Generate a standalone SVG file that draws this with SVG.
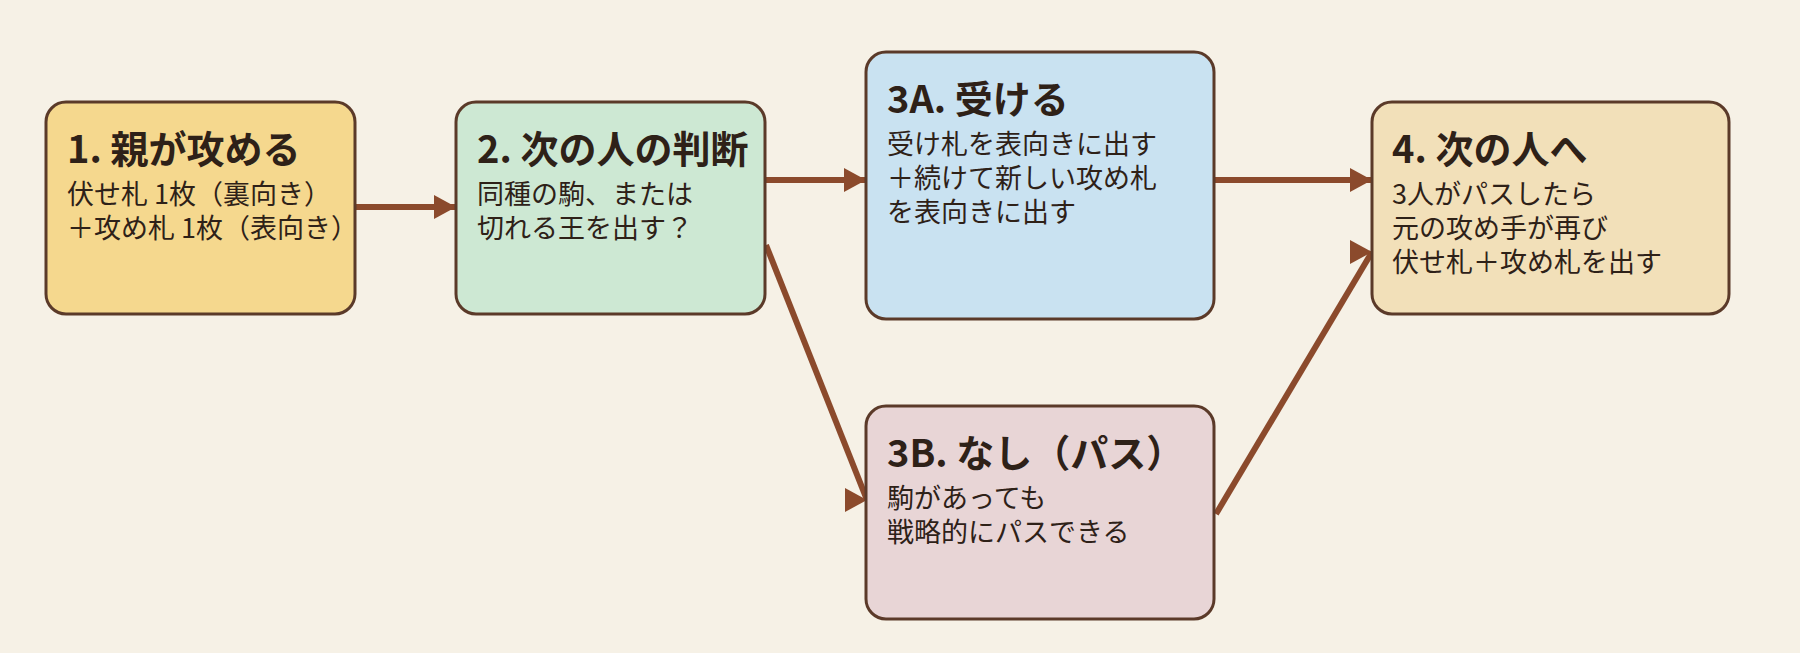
<svg xmlns="http://www.w3.org/2000/svg" width="1800" height="653" viewBox="0 0 1800 653">
<style>
.box{stroke:#5B3A29;stroke-width:3}
.t{font-family:"Noto Sans CJK JP","Noto Sans",sans-serif;fill:#2E2118}
.h{font-size:38px;font-weight:700}
.b{font-size:27px;font-weight:400}
.c{stroke:#8B4A2C;stroke-width:6;fill:none}
</style>
<defs>
<marker id="ah" markerUnits="userSpaceOnUse" viewBox="0 0 22 24" refX="22" refY="12" markerWidth="22" markerHeight="24" orient="0">
<path d="M0,0 L22,12 L0,24 z" fill="#8B4A2C"/>
</marker>
</defs>
<rect width="1800" height="653" fill="#F6F1E6"/>
<g id="connectors">
<path class="c" d="M355,207 L456,207" marker-end="url(#ah)"/>
<path class="c" d="M765,180 L866,180" marker-end="url(#ah)"/>
<path class="c" d="M1214,180 L1372,180" marker-end="url(#ah)"/>
<path class="c" d="M766,245 L867,500" marker-end="url(#ah)"/>
<path class="c" d="M1216,514 L1372,252" marker-end="url(#ah)"/>
</g>
<g id="node1">
<rect class="box" x="46" y="102" width="309" height="212" rx="20" fill="#F5D88E"/>
<text class="t h" x="67" y="163">1. 親が攻める</text>
<text class="t b" x="67" y="204">伏せ札 1枚（裏向き）</text>
<text class="t b" x="67" y="238">＋攻め札 1枚（表向き）</text>
</g>
<g id="node2">
<rect class="box" x="456" y="102" width="309" height="212" rx="20" fill="#CDE8D3"/>
<text class="t h" x="477" y="163">2. 次の人の判断</text>
<text class="t b" x="477" y="204">同種の駒、または</text>
<text class="t b" x="477" y="238">切れる王を出す？</text>
</g>
<g id="node3a">
<rect class="box" x="866" y="52" width="348" height="267" rx="20" fill="#C9E2F1"/>
<text class="t h" x="887" y="113">3A. 受ける</text>
<text class="t b" x="887" y="154">受け札を表向きに出す</text>
<text class="t b" x="887" y="188">＋続けて新しい攻め札</text>
<text class="t b" x="887" y="222">を表向きに出す</text>
</g>
<g id="node3b">
<rect class="box" x="866" y="406" width="348" height="213" rx="20" fill="#E8D5D6"/>
<text class="t h" x="887" y="467">3B. なし（パス）</text>
<text class="t b" x="887" y="508">駒があっても</text>
<text class="t b" x="887" y="542">戦略的にパスできる</text>
</g>
<g id="node4">
<rect class="box" x="1372" y="102" width="357" height="212" rx="20" fill="#F2E0B9"/>
<text class="t h" x="1392" y="163">4. 次の人へ</text>
<text class="t b" x="1392" y="204">3人がパスしたら</text>
<text class="t b" x="1392" y="238">元の攻め手が再び</text>
<text class="t b" x="1392" y="272">伏せ札＋攻め札を出す</text>
</g>
</svg>
